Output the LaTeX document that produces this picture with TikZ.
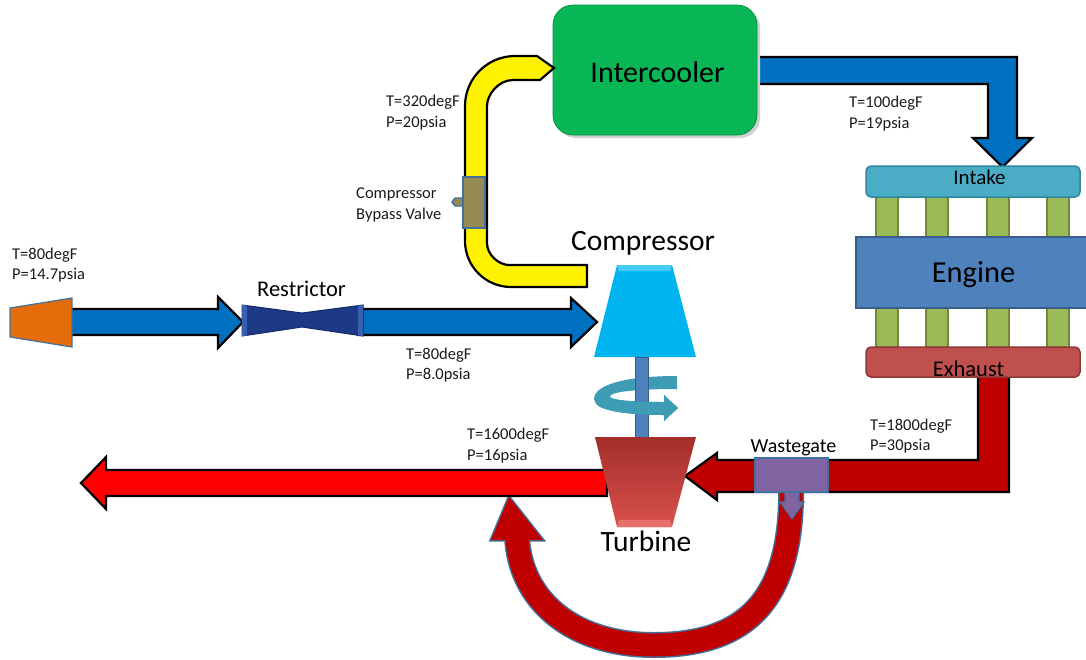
\documentclass[tikz,border=0pt]{standalone}
\usepackage{fontspec}
\setmainfont{Carlito}
\definecolor{flowblue}{HTML}{0070C0}
\definecolor{hotred}{HTML}{C00000}
\definecolor{brightred}{HTML}{FF0000}
\definecolor{edgeblue}{HTML}{41719C}
\definecolor{coolgreen}{HTML}{08B656}
\definecolor{coolgreenedge}{HTML}{079247}
\definecolor{intakefill}{HTML}{4BACC6}
\definecolor{intakeedge}{HTML}{31859C}
\definecolor{runnerfill}{HTML}{9BBB59}
\definecolor{runneredge}{HTML}{71893F}
\definecolor{enginefill}{HTML}{4F81BD}
\definecolor{engineedge}{HTML}{385D8A}
\definecolor{exhfill}{HTML}{C0504D}
\definecolor{exhedge}{HTML}{8C3836}
\definecolor{compfill}{HTML}{00B4F0}
\definecolor{compbevel}{HTML}{45CCF6}
\definecolor{swirl}{HTML}{3E9DB4}
\definecolor{gatefill}{HTML}{8064A2}
\definecolor{valvefill}{HTML}{948A54}
\definecolor{conefill}{HTML}{E46C0A}
\definecolor{navy}{HTML}{1C3A85}
\definecolor{navyedge}{HTML}{12296A}
\definecolor{navybevel}{HTML}{3A5FB0}
\definecolor{turbtop}{HTML}{A32E2A}
\definecolor{turbbot}{HTML}{D9514C}
\definecolor{turbbevel}{HTML}{E8706B}
\definecolor{labeltext}{HTML}{1A1A1A}
\begin{document}
\begin{tikzpicture}[x=1pt,y=-1pt,
  blk/.style={draw=black,line width=2.2pt,line join=miter,miter limit=10},
  part/.style={draw=edgeblue,line width=1.4pt},
  small/.style={font=\fontsize{16.5}{20}\selectfont,anchor=base west,inner sep=0pt,text=labeltext},
  big/.style={font=\fontsize{30}{36}\selectfont,anchor=base,inner sep=0pt},
  medium/.style={font=\fontsize{21}{25}\selectfont,anchor=base,inner sep=0pt},
]
\useasboundingbox (0,0) rectangle (1086,659);

% ---------- charge air: intercooler to intake ----------
\draw[blk,fill=flowblue] (750,57) -- (1017,57) -- (1017,138) -- (1032,138)
  -- (1002.5,167) -- (973,138) -- (988,138) -- (988,84) -- (750,84) -- cycle;

\fill[black!18,rounded corners=20pt] (556,8) rectangle (760,138);
\filldraw[fill=coolgreen,draw=coolgreenedge,line width=0.8pt,rounded corners=20pt]
  (553,5) rectangle (757,135);
\node[big] (intercooler) at (657.5,82) {Intercooler};

% ---------- compressor outlet pipe ----------
\draw[blk,fill=yellow] (587,287) -- (511,287)
  .. controls (485.6,287) and (465,266.4) .. (465,241) -- (465,106)
  .. controls (465,78.4) and (487.4,56) .. (515,56) -- (537,56) -- (554,68)
  -- (540,80) -- (513,80)
  .. controls (498.6,80) and (487,94.4) .. (487,106) -- (487,243)
  .. controls (487,255.1) and (499.1,265) .. (509,265) -- (587,265) -- cycle;

% bypass valve
\filldraw[fill=valvefill,part] (463,198) -- (455,198) -- (452,202) -- (455,206) -- (463,206);
\filldraw[fill=valvefill,part] (463,177) rectangle (485,228);

% ---------- inlet line ----------
\draw[blk,fill=flowblue] (70,309) -- (218,309) -- (218,297) -- (243,322)
  -- (218,348) -- (218,335) -- (70,335) -- cycle;
\draw[blk,fill=flowblue] (358,309) -- (571,309) -- (571,298) -- (597,322)
  -- (571,347) -- (571,335) -- (358,335) -- cycle;

% air filter cone
\filldraw[fill=conefill,draw=edgeblue,line width=1.2pt,line join=miter]
  (10,308) -- (72,298) -- (72,347) -- (10,337) -- cycle;

% restrictor
\filldraw[fill=navy,draw=navyedge,line width=1pt,line join=miter]
  (242,305) -- (302,313) -- (363,305) -- (363,336) -- (302,327) -- (242,336) -- cycle;
\fill[navybevel] (242,305) -- (247,305.6) -- (247,335.4) -- (242,336) -- cycle;
\fill[navybevel] (363,305) -- (358,305.6) -- (358,335.4) -- (363,336) -- cycle;
\node[font=\fontsize{22.5}{26}\selectfont,anchor=base,inner sep=0pt] (restrictor) at (301.5,296) {Restrictor};

% ---------- compressor ----------
\fill[compfill] (617,265) -- (672,265) -- (696,357) -- (594,357) -- cycle;
\fill[compbevel] (617,265) -- (672,265) -- (670.4,271) -- (618.6,271) -- cycle;
\node[big,font=\fontsize{29.5}{34}\selectfont] (compressor) at (643,250) {Compressor};

% ---------- shaft and rotation arrow ----------
\fill[swirl] (677,376) .. controls (625,376) and (594,385) .. (594,399)
  .. controls (594,410) and (625,415) .. (664,415)
  -- (664,421) -- (678,408) -- (664,395) -- (664,402)
  .. controls (635,402) and (610,400) .. (610,396.5)
  .. controls (610,392) and (635,389) .. (677,389) -- cycle;
\filldraw[fill=enginefill,draw=engineedge,line width=0.8pt] (635,357) rectangle (648,439);
\fill[swirl] (596,404) .. controls (602,411) and (628,415) .. (664,415)
  -- (664,421) -- (678,408) -- (664,395) -- (664,402)
  .. controls (636,402) and (615,401) .. (605,399.5) -- cycle;

% ---------- wastegate bypass ----------
\newcommand\bypassroute{(791,485) .. controls (793,596) and (750,645) .. (654,645)
  .. controls (572,645) and (520,600) .. (517,537)}
\draw[edgeblue,line width=26pt] \bypassroute;
\draw[edgeblue,line width=3pt,line join=miter] (491,540) -- (509,497) -- (543,540) -- cycle;
\draw[hotred,line width=23pt] \bypassroute;
\fill[hotred] (491,540) -- (509,497) -- (543,540) -- cycle;

% ---------- exhaust to turbine ----------
\draw[blk,fill=hotred] (978,376) -- (1009,376) -- (1009,492) -- (717,492) -- (717,500)
  -- (685,476) -- (717,453) -- (717,460) -- (978,460) -- cycle;

% turbine outlet
\draw[blk,fill=brightred] (607,470) -- (106,470) -- (106,457) -- (81,483)
  -- (106,509) -- (106,496) -- (607,496) -- cycle;

% ---------- turbine ----------
\shade[top color=turbtop,bottom color=turbbot] (595,437) -- (696,437) -- (672,527) -- (617,527) -- cycle;
\fill[turbbevel] (619,520) -- (670,520) -- (672,527) -- (617,527) -- cycle;
\node[big,font=\fontsize{29.5}{34}\selectfont] (turbine) at (646,551) {Turbine};

% ---------- wastegate ----------
\filldraw[fill=gatefill,draw=edgeblue,line width=1.2pt,line join=miter]
  (785,490) -- (799,490) -- (799,502) -- (804,502) -- (792,519) -- (780,502) -- (785,502) -- cycle;
\filldraw[fill=gatefill,part] (755,458) rectangle (828,492);
\node[font=\fontsize{20}{24}\selectfont,anchor=base,inner sep=0pt] (wastegate) at (793.5,452.5) {Wastegate};

% ---------- engine ----------
\foreach \x in {876,926,987,1047} {
  \filldraw[fill=runnerfill,draw=runneredge,line width=1.4pt] (\x,195) rectangle ++(22,44);
  \filldraw[fill=runnerfill,draw=runneredge,line width=1.4pt] (\x,306) rectangle ++(22,43);
}
\filldraw[fill=intakefill,draw=intakeedge,line width=1.5pt,rounded corners=5pt] (866,166) rectangle (1080,197);
\node[medium] (intake) at (979.5,184) {Intake};
\filldraw[fill=enginefill,draw=engineedge,line width=1.2pt] (856,237) rectangle (1092,308);
\node[big,font=\fontsize{30.5}{36}\selectfont] (engine) at (973.5,282) {Engine};
\filldraw[fill=exhfill,draw=exhedge,line width=1.5pt,rounded corners=5pt] (866,347) rectangle (1080,377);
\node[font=\fontsize{22.5}{26}\selectfont,anchor=base,inner sep=0pt] (exhaust) at (968.5,376.5) {Exhaust};

% ---------- state labels ----------
\node[small] (inletT) at (12,259.3) {T=80degF};
\node[small] (inletP) at (12,279.3) {P=14.7psia};
\node[small] (restT) at (406,359.3) {T=80degF};
\node[small] (restP) at (406,379.3) {P=8.0psia};
\node[small] (compT) at (386,106.5) {T=320degF};
\node[small] (compP) at (386,127.5) {P=20psia};
\node[small] (coolT) at (849,107.7) {T=100degF};
\node[small] (coolP) at (849,128.3) {P=19psia};
\node[small] (exhT) at (870,430) {T=1800degF};
\node[small] (exhP) at (870,450.7) {P=30psia};
\node[small] (turbT) at (467,439.5) {T=1600degF};
\node[small] (turbP) at (467,460) {P=16psia};
\node[small] (valve1) at (356,198.5) {Compressor};
\node[small] (valve2) at (356,219.5) {Bypass Valve};
\end{tikzpicture}
\end{document}
